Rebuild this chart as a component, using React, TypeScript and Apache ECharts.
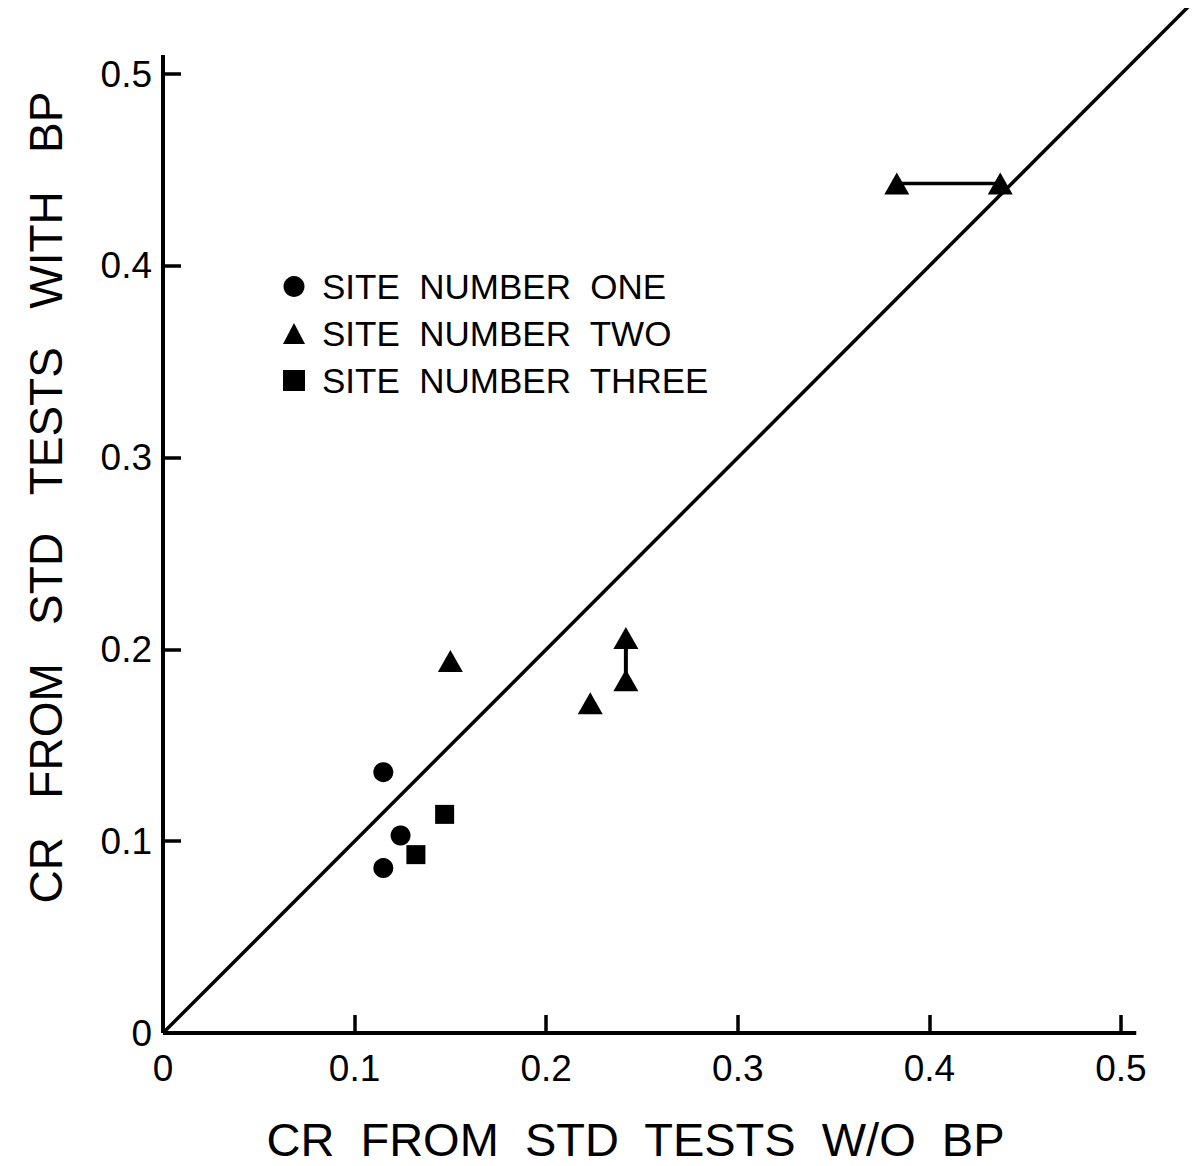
import React, { useEffect, useRef } from "react";
import * as echarts from "echarts";

const tickValues = [0, 0.1, 0.2, 0.3, 0.4, 0.5];
const siteOne: number[][] = [
  [0.115, 0.136],
  [0.124, 0.103],
  [0.115, 0.086],
];
const siteTwo: number[][] = [
  [0.150, 0.194],
  [0.223, 0.172],
  [0.2416, 0.206],
  [0.2416, 0.184],
  [0.383, 0.443],
  [0.437, 0.443],
];
const siteThree: number[][] = [
  [0.147, 0.114],
  [0.132, 0.093],
];
const equalityLine: number[][] = [
  [0, 0],
  [0.535, 0.535],
];
const arrowH: number[][] = [
  [0.383, 0.443],
  [0.437, 0.443],
];
const arrowV: number[][] = [
  [0.2416, 0.184],
  [0.2416, 0.206],
];
const xAxisLine: number[][] = [
  [0, 0],
  [0.508, 0],
];
const yAxisLine: number[][] = [
  [0, 0],
  [0, 0.51],
];

const names = ["SITE  NUMBER  ONE", "SITE  NUMBER  TWO", "SITE  NUMBER  THREE"];
const FONT = "Liberation Sans";
const AXIS_MAX = 0.535;

export default function App() {
  const ref = useRef<HTMLDivElement>(null);
  useEffect(() => {
    if (!ref.current) return;
    const chart = echarts.init(ref.current, null, { renderer: "svg" });
    const lineSeries = (data: number[][], width: number) => ({
      type: "line",
      data,
      symbol: "none",
      silent: true,
      lineStyle: { color: "#000", width },
      z: 1,
    });
    const fmt = (v: number) => (v === 0 ? "0" : v.toFixed(1));
    const tickStyle = { show: true, inside: true, length: 18, lineStyle: { color: "#000", width: 3.5 }, customValues: tickValues };
    const markStyle = { color: "#000", opacity: 1 };
    chart.setOption({
      animation: false,
      backgroundColor: "#fff",
      grid: { left: 155, right: 5, top: -1, bottom: 133, containLabel: false, outerBoundsMode: "none" },
      legend: {
        orient: "vertical",
        left: 270,
        top: 256,
        itemWidth: 22,
        itemHeight: 21,
        itemGap: 12,
        data: names,
        itemStyle: { opacity: 1 },
        textStyle: {
          fontFamily: FONT,
          fontSize: 35,
          lineHeight: 35,
          color: "#000",
          padding: [0, 0, 0, 12],
        },
      },
      xAxis: {
        type: "value",
        min: 0,
        max: AXIS_MAX,
        axisLine: { show: false },
        splitLine: { show: false },
        axisTick: tickStyle,
        axisLabel: { formatter: fmt, fontFamily: FONT, fontSize: 37, color: "#000", margin: 17, customValues: tickValues },
        name: "CR  FROM  STD  TESTS  W/O  BP",
        nameLocation: "middle",
        nameGap: 84,
        nameTextStyle: { fontFamily: FONT, fontSize: 47, lineHeight: 44, color: "#000", padding: [0, 80, 0, 0] },
      },
      yAxis: {
        type: "value",
        min: 0,
        max: AXIS_MAX,
        axisLine: { show: false },
        splitLine: { show: false },
        axisTick: tickStyle,
        axisLabel: { formatter: fmt, fontFamily: FONT, fontSize: 37, color: "#000", margin: 11, customValues: tickValues },
        name: "CR   FROM   STD   TESTS   WITH   BP",
        nameLocation: "middle",
        nameGap: 94,
        nameTextStyle: { fontFamily: FONT, fontSize: 46, color: "#000", padding: [0, 0, 0, 45] },
      },
      series: [
        lineSeries(xAxisLine, 4),
        lineSeries(yAxisLine, 4),
        lineSeries(equalityLine, 3.5),
        lineSeries(arrowH, 3.5),
        lineSeries(arrowV, 4),
        {
          name: names[0],
          type: "scatter",
          data: siteOne,
          symbol: "circle",
          symbolSize: 20,
          itemStyle: markStyle,
          z: 3,
        },
        {
          name: names[1],
          type: "scatter",
          data: siteTwo,
          symbol: "triangle",
          symbolSize: [25, 22],
          itemStyle: markStyle,
          z: 3,
        },
        {
          name: names[2],
          type: "scatter",
          data: siteThree,
          symbol: "rect",
          symbolSize: 19,
          itemStyle: markStyle,
          z: 3,
        },
      ],
    });
    return () => chart.dispose();
  }, []);
  return <div ref={ref} style={{ width: 1185, height: 1158, marginBottom: -8 }} />;
}
